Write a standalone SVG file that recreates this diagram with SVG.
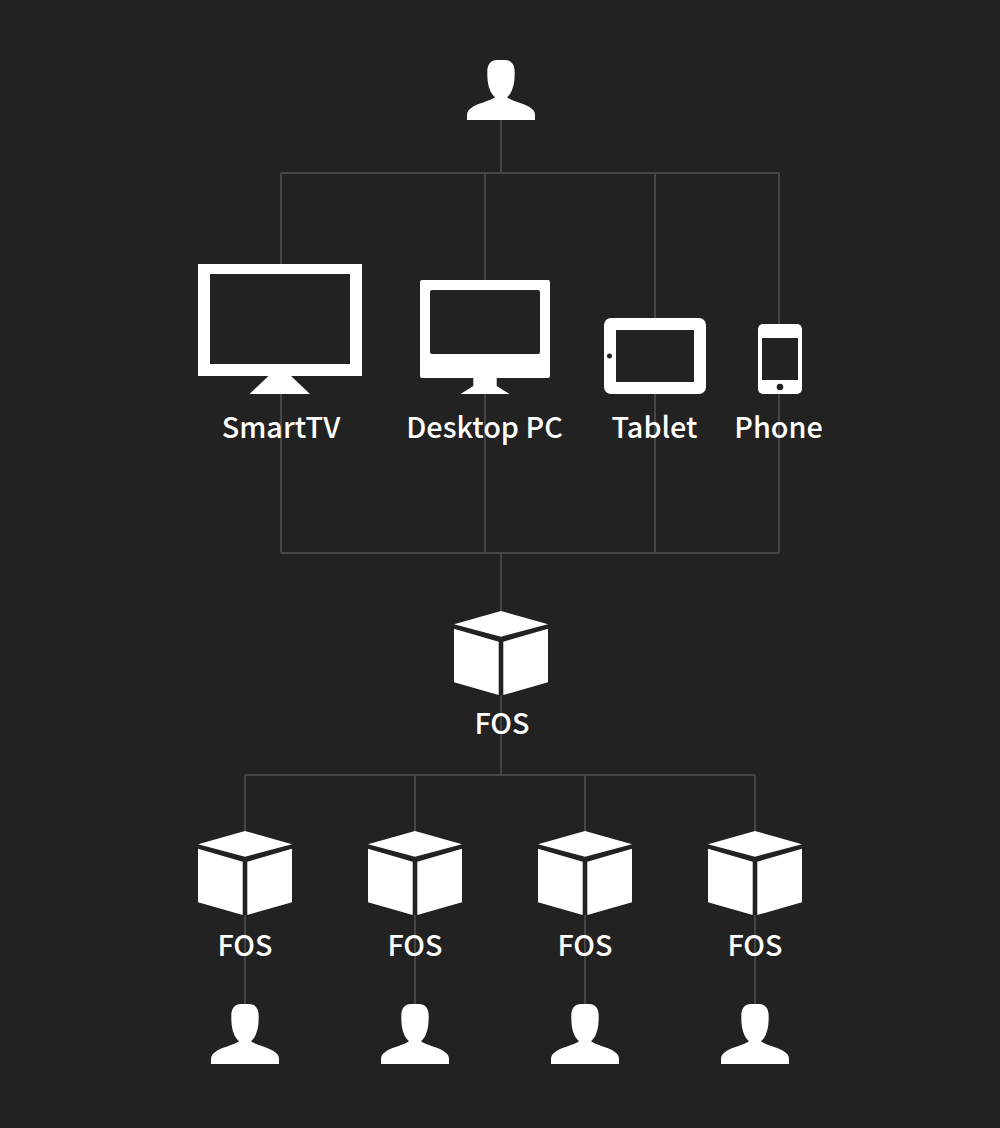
<svg xmlns="http://www.w3.org/2000/svg" width="1000" height="1128" viewBox="0 0 1000 1128">
<style>
.c{fill:none;stroke:#464646;stroke-width:2}
.i{fill:#fff}
.h{fill:#222}
text{fill:#fff;font-family:"Noto Sans CJK JP","Noto Sans",sans-serif;font-weight:500;font-size:28.800px;text-anchor:middle}
</style>
<defs>
<path id="person" d="M497 60H505C511 60 514.700 64 514.700 72C514.700 80 514 85 512 90C511 93 509 95.500 507 97.300C513 101.500 523 103 529.500 107C533.500 109.500 535 112 535 115V120H467V115C467 112 468.500 109.500 472.500 107C479 103 489 101.500 495 97.300C493 95.500 491 93 490 90C488 85 487.300 80 487.300 72C487.300 64 491 60 497 60Z"/>
<g id="cube">
<path fill="#222" d="M501 611L548 624.300V682.300L501 695L454 682.300V624.300Z"/>
<path fill="#fff" d="M501 611L548 624.300L501 636.700L454 624.300Z"/>
<path fill="#fff" d="M454 628.700L498.700 641.700V695L454 682.300Z"/>
<path fill="#fff" d="M548 628.700L503.300 641.700V695L548 682.300Z"/>
</g>
</defs>
<rect width="1000" height="1128" fill="#222"/>
<g id="connectors">
<path class="c" d="M501 120V173M281 173H779M281 173V553M485 173V553M655 173V553M779 173V553M281 553H779M501 553V775M245 775H755M245 775V1006M415 775V1006M585 775V1006M755 775V1006"/>
</g>
<g id="user-top" class="i"><use href="#person"/></g>
<g id="smarttv">
<path class="i" d="M198 264H362V376H291L310 394H249.500L268.500 376H198Z"/>
<rect class="h" x="210" y="274" width="140" height="90"/>
<text x="281" y="437.600">SmartTV</text>
</g>
<g id="desktop-pc">
<path class="i" d="M422 280H548Q550 280 550 282V376Q550 378 548 378H496.700V386L509.500 394H460.500L473.300 386V378H422Q420 378 420 376V282Q420 280 422 280Z"/>
<rect class="h" x="430" y="290" width="110" height="64" rx="2"/>
<text x="484.500" y="437.600">Desktop PC</text>
</g>
<g id="tablet">
<rect class="i" x="604" y="318" width="102" height="76" rx="7"/>
<rect class="h" x="616" y="330" width="78" height="52"/>
<circle class="h" cx="609.500" cy="356" r="2.500"/>
<text x="654.500" y="437.600">Tablet</text>
</g>
<g id="phone">
<rect class="i" x="758" y="324" width="44" height="70" rx="5"/>
<rect class="h" x="762" y="338" width="36" height="42"/>
<circle class="h" cx="780" cy="387" r="3.300"/>
<text x="778.500" y="437.600">Phone</text>
</g>
<g id="fos-main"><use href="#cube"/><text x="502" y="734">FOS</text></g>
<g id="fos-1"><use href="#cube" x="-256" y="220"/><text x="245" y="956">FOS</text></g>
<g id="fos-2"><use href="#cube" x="-86" y="220"/><text x="415" y="956">FOS</text></g>
<g id="fos-3"><use href="#cube" x="84" y="220"/><text x="585" y="956">FOS</text></g>
<g id="fos-4"><use href="#cube" x="254" y="220"/><text x="755" y="956">FOS</text></g>
<g id="user-1" class="i"><use href="#person" x="-256" y="944"/></g>
<g id="user-2" class="i"><use href="#person" x="-86" y="944"/></g>
<g id="user-3" class="i"><use href="#person" x="84" y="944"/></g>
<g id="user-4" class="i"><use href="#person" x="254" y="944"/></g>
</svg>
